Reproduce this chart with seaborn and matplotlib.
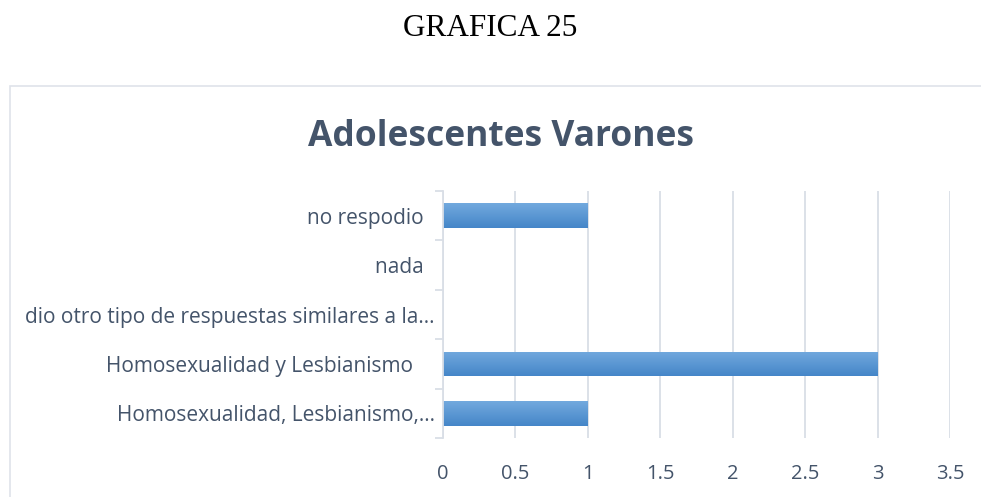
import numpy as np
import pandas as pd
import matplotlib
matplotlib.use("Agg")
import matplotlib.pyplot as plt
from matplotlib.patches import Rectangle
from matplotlib.colors import LinearSegmentedColormap
import seaborn as sns

# Responses (top to bottom) and counts
categorias = [
    "no respodio  ",
    "nada  ",
    "dio otro tipo de respuestas similares a la…",
    "Homosexualidad y Lesbianismo    ",
    "Homosexualidad, Lesbianismo,…",
]
valores = [1, 0, 0, 3, 1]
ticks_x = [0, 0.5, 1, 1.5, 2, 2.5, 3, 3.5]
etiquetas_x = ["0", "0.5", "1", "1.5", "2", "2.5", "3", "3.5"]

df = pd.DataFrame({"respuesta": categorias, "cantidad": valores})

sns.set_theme(style="white")
plt.rcParams["font.family"] = ["Open Sans", "DejaVu Sans"]

texto = "#44546a"
rejilla = "#d9dee6"

fig = plt.figure(figsize=(9.81, 4.97), dpi=100)
fig.patch.set_facecolor("white")

# chart frame
fig.patches.append(Rectangle((10 / 981, -0.05), 1.0, (497 - 86) / 497 + 0.05,
                             transform=fig.transFigure, fill=False,
                             edgecolor="#dfe3ea", linewidth=1.2))

fig.text(0.5, 1 - 29 / 497, "GRAFICA 25", ha="center", va="center",
         family="Liberation Serif", fontsize=22.5, color="black")
fig.text(501 / 981, 1 - 137 / 497, "Adolescentes Varones", ha="center", va="center",
         fontsize=25.5, fontweight="bold", color=texto)

ax = fig.add_axes([443 / 981, 1 - 438 / 497, (950 - 443) / 981, (438 - 191) / 497])
sns.barplot(data=df, y="respuesta", x="cantidad", orient="h", width=0.5,
            color="#5b9bd5", linewidth=0, ax=ax, zorder=3)

# vertical gradient on each bar: lighter on top, darker below
grad = LinearSegmentedColormap.from_list("g", ["#4586c8", "#72a9de"])
for p in ax.patches:
    x0, y0 = p.get_x(), p.get_y()
    w, h = p.get_width(), p.get_height()
    if w <= 0:
        continue
    im = ax.imshow(np.linspace(0, 1, 64).reshape(-1, 1), cmap=grad, aspect="auto",
                   extent=(x0, x0 + w, y0 + h, y0), zorder=4, origin="lower",
                   interpolation="bicubic")
    im.set_clip_path(p)

ax.set_xlim(0, 3.5)
ax.set_ylim(len(categorias) - 0.5, -0.5)
ax.set_xticks(ticks_x)
ax.set_xticklabels(etiquetas_x)
ax.set_xlabel("")
ax.set_ylabel("")
ax.xaxis.grid(True, color=rejilla, linewidth=1.3, zorder=0)
ax.yaxis.grid(False)
ax.set_axisbelow(True)

for s in ["top", "right", "bottom"]:
    ax.spines[s].set_visible(False)
ax.spines["left"].set_color(rejilla)
ax.spines["left"].set_linewidth(1.3)
ax.spines["left"].set_zorder(5)

ax.set_yticks(np.arange(-0.5, len(categorias), 1.0), minor=True)
ax.tick_params(axis="y", which="minor", length=6, width=1.3, color=rejilla, left=True)
ax.tick_params(axis="y", which="major", length=0, pad=6, labelsize=15, labelcolor=texto)
ax.tick_params(axis="x", length=0, pad=19, labelsize=14.5, labelcolor=texto)

fig.savefig("out.png", dpi=100)
